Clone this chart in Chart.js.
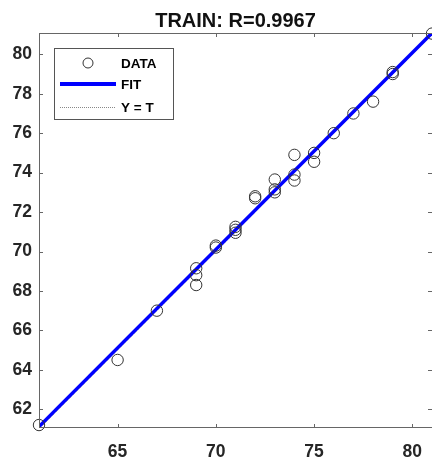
<!DOCTYPE html>
<html>
<head>
<meta charset="utf-8">
<script src="https://cdn.jsdelivr.net/npm/chart.js@4/dist/chart.umd.min.js"></script>
<style>
  html, body { margin: 0; padding: 0; background: #fff; }
  #wrap { width: 432px; height: 459px; }
</style>
</head>
<body>
<div id="wrap"><canvas id="grafico"></canvas></div>
<script>
// Gráfico de regresión (targets vs outputs) al estilo plotregression.

const TITULO = 'TRAIN: R=0.9967';
const LEYENDA = ['DATA', 'FIT', 'Y = T'];

// Puntos: target (x) y salida de la red (y)
const targets = [61, 65, 67, 69, 69, 69, 70, 70, 71, 71, 71, 72, 72, 73, 73, 73, 74, 74, 74, 75, 75, 76, 77, 78, 79, 79, 81];
const salidas = [61.2, 64.5, 67.0, 69.15, 68.8, 68.3, 70.3, 70.2, 71.25, 71.1, 70.95, 72.8, 72.7, 73.65, 73.15, 73.0, 74.9, 73.9, 73.6, 75.0, 74.55, 76.0, 77.0, 77.6, 79.1, 79.0, 81.05];

// Recta de ajuste y recta identidad
const fitX = [61, 81];
const fitY = [61.12, 81.08];
const identX = [61, 81];
const identY = [61, 81];

const X_LIM = [61, 81];
const Y_LIM = [61.05, 81.08];
const X_TICKS = [65, 70, 75, 80];
const Y_TICKS = [62, 64, 66, 68, 70, 72, 74, 76, 78, 80];

const FUENTE = '"Liberation Sans", Arial, Helvetica, sans-serif';
const GRIS_TXT = '#262626';

const pares = (xs, ys) => xs.map((x, i) => ({ x, y: ys[i] }));

// Marco con ticks hacia adentro, título centrado en el área y leyenda interna.
// El borde derecho queda justo fuera del canvas, como en la figura original.
const marcoPlugin = {
  id: 'marco',
  afterDraw(chart) {
    const { ctx, chartArea: a, scales } = chart;
    const tl = 4;
    ctx.save();
    ctx.strokeStyle = '#666';
    ctx.lineWidth = 1;
    ctx.strokeRect(a.left + 0.5, a.top + 0.5, a.right - a.left, a.bottom - a.top - 1);
    ctx.beginPath();
    for (const v of X_TICKS) {
      const px = Math.round(scales.x.getPixelForValue(v)) + 0.5;
      ctx.moveTo(px, a.bottom); ctx.lineTo(px, a.bottom - tl);
      ctx.moveTo(px, a.top); ctx.lineTo(px, a.top + tl);
    }
    for (const v of Y_TICKS) {
      const py = Math.round(scales.y.getPixelForValue(v)) + 0.5;
      ctx.moveTo(a.left, py); ctx.lineTo(a.left + tl, py);
      ctx.moveTo(a.right, py); ctx.lineTo(a.right - tl, py);
    }
    ctx.stroke();

    // título
    ctx.fillStyle = '#111';
    ctx.font = 'bold 20px ' + FUENTE;
    ctx.textAlign = 'center';
    ctx.textBaseline = 'alphabetic';
    ctx.fillText(TITULO, (a.left + a.right) / 2, 27);

    // leyenda
    const bx = a.left + 15, by = a.top + 15, bw = 119, bh = 71;
    ctx.fillStyle = '#fff';
    ctx.fillRect(bx, by, bw, bh);
    ctx.strokeStyle = '#555';
    ctx.strokeRect(bx + 0.5, by + 0.5, bw, bh);
    const filas = [by + 15, by + 36, by + 59];
    const x0 = bx + 6, x1 = bx + 62;
    // DATA
    ctx.strokeStyle = '#333';
    ctx.beginPath();
    ctx.arc((x0 + x1) / 2, filas[0], 5, 0, Math.PI * 2);
    ctx.stroke();
    // FIT
    ctx.strokeStyle = '#0000ff';
    ctx.lineWidth = 4;
    ctx.beginPath();
    ctx.moveTo(x0, filas[1]); ctx.lineTo(x1, filas[1]);
    ctx.stroke();
    // Y = T
    ctx.strokeStyle = '#888';
    ctx.lineWidth = 1;
    ctx.setLineDash([1, 1]);
    ctx.beginPath();
    ctx.moveTo(x0, filas[2] + 0.5); ctx.lineTo(x1, filas[2] + 0.5);
    ctx.stroke();
    ctx.setLineDash([]);

    ctx.fillStyle = '#000';
    ctx.font = 'bold 13.5px ' + FUENTE;
    ctx.textAlign = 'left';
    ctx.textBaseline = 'middle';
    LEYENDA.forEach((t, i) => ctx.fillText(t, bx + 67, filas[i] + 1));
    ctx.restore();
  },
};

new Chart(document.getElementById('grafico'), {
  type: 'scatter',
  data: {
    datasets: [
      {
        label: LEYENDA[0], data: pares(targets, salidas), order: 0, clip: false,
        pointStyle: 'circle', pointRadius: 5.7, pointBorderWidth: 1,
        pointBorderColor: '#333', pointBackgroundColor: 'rgba(0,0,0,0)', showLine: false,
      },
      {
        label: LEYENDA[1], data: pares(fitX, fitY), order: 1, showLine: true,
        borderColor: '#0000ff', borderWidth: 3.5, pointRadius: 0,
      },
      {
        label: LEYENDA[2], data: pares(identX, identY), order: 2, showLine: true,
        borderColor: '#888', borderWidth: 1, borderDash: [1, 1], pointRadius: 0,
      },
    ],
  },
  options: {
    responsive: true,
    maintainAspectRatio: false,
    animation: false,
    layout: { autoPadding: false, padding: { top: 33, right: 0, left: 0, bottom: 0 } },
    plugins: { legend: { display: false }, title: { display: false }, tooltip: { enabled: false } },
    scales: {
      x: {
        type: 'linear', min: X_LIM[0], max: X_LIM[1],
        grid: { display: false, drawTicks: false },
        border: { display: false },
        afterBuildTicks: (s) => { s.ticks = X_TICKS.map((v) => ({ value: v })); },
        afterFit: (s) => { s.height = 31; s.paddingLeft = 0; s.paddingRight = 0; },
        ticks: { color: GRIS_TXT, font: { family: FUENTE, size: 17.5, weight: 'bold' }, padding: 14, maxRotation: 0, autoSkip: false },
      },
      y: {
        type: 'linear', min: Y_LIM[0], max: Y_LIM[1],
        grid: { display: false, drawTicks: false },
        border: { display: false },
        afterBuildTicks: (s) => { s.ticks = Y_TICKS.map((v) => ({ value: v })); },
        afterFit: (s) => { s.width = 39; s.paddingTop = 0; s.paddingBottom = 0; },
        ticks: { color: GRIS_TXT, font: { family: FUENTE, size: 17.5, weight: 'bold' }, padding: 7, autoSkip: false },
      },
    },
  },
  plugins: [marcoPlugin],
});
</script>
</body>
</html>
